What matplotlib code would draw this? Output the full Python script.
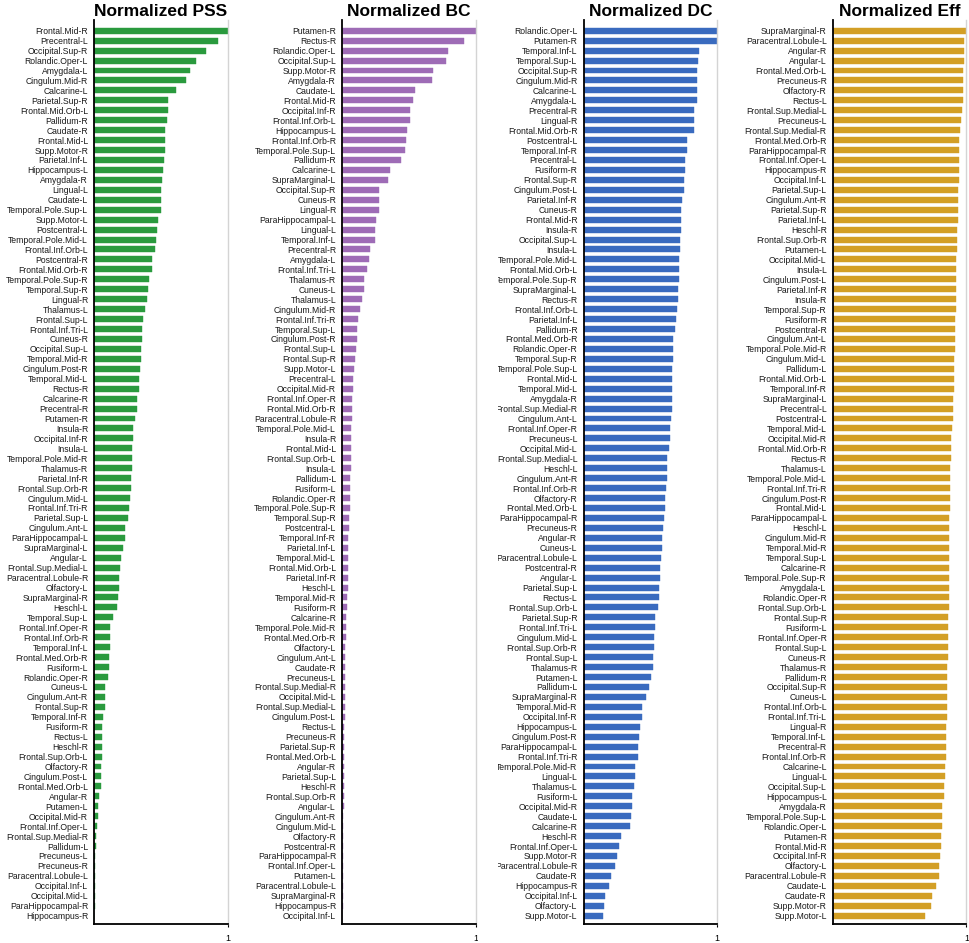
import matplotlib
matplotlib.use("Agg")
import matplotlib.pyplot as plt
from matplotlib.patches import Rectangle

plt.rcParams['font.family'] = ['Liberation Sans', 'DejaVu Sans']

pss_labels = ['Frontal.Mid-R', 'Precentral-L', 'Occipital.Sup-R', 'Rolandic.Oper-L', 'Amygdala-L',
              'Cingulum.Mid-R', 'Calcarine-L', 'Parietal.Sup-R', 'Frontal.Mid.Orb-L', 'Pallidum-R',
              'Caudate-R', 'Frontal.Mid-L', 'Supp.Motor-R', 'Parietal.Inf-L', 'Hippocampus-L',
              'Amygdala-R', 'Lingual-L', 'Caudate-L', 'Temporal.Pole.Sup-L', 'Supp.Motor-L',
              'Postcentral-L', 'Temporal.Pole.Mid-L', 'Frontal.Inf.Orb-L', 'Postcentral-R', 'Frontal.Mid.Orb-R',
              'Temporal.Pole.Sup-R', 'Temporal.Sup-R', 'Lingual-R', 'Thalamus-L', 'Frontal.Sup-L',
              'Frontal.Inf.Tri-L', 'Cuneus-R', 'Occipital.Sup-L', 'Temporal.Mid-R', 'Cingulum.Post-R',
              'Temporal.Mid-L', 'Rectus-R', 'Calcarine-R', 'Precentral-R', 'Putamen-R',
              'Insula-R', 'Occipital.Inf-R', 'Insula-L', 'Temporal.Pole.Mid-R', 'Thalamus-R',
              'Parietal.Inf-R', 'Frontal.Sup.Orb-R', 'Cingulum.Mid-L', 'Frontal.Inf.Tri-R', 'Parietal.Sup-L',
              'Cingulum.Ant-L', 'ParaHippocampal-L', 'SupraMarginal-L', 'Angular-L', 'Frontal.Sup.Medial-L',
              'Paracentral.Lobule-R', 'Olfactory-L', 'SupraMarginal-R', 'Heschl-L', 'Temporal.Sup-L',
              'Frontal.Inf.Oper-R', 'Frontal.Inf.Orb-R', 'Temporal.Inf-L', 'Frontal.Med.Orb-R', 'Fusiform-L',
              'Rolandic.Oper-R', 'Cuneus-L', 'Cingulum.Ant-R', 'Frontal.Sup-R', 'Temporal.Inf-R',
              'Fusiform-R', 'Rectus-L', 'Heschl-R', 'Frontal.Sup.Orb-L', 'Olfactory-R',
              'Cingulum.Post-L', 'Frontal.Med.Orb-L', 'Angular-R', 'Putamen-L', 'Occipital.Mid-R',
              'Frontal.Inf.Oper-L', 'Frontal.Sup.Medial-R', 'Pallidum-L', 'Precuneus-L', 'Precuneus-R',
              'Paracentral.Lobule-L', 'Occipital.Inf-L', 'Occipital.Mid-L', 'ParaHippocampal-R', 'Hippocampus-R']
pss_values = [1.0, 0.93, 0.835, 0.76, 0.72, 0.69, 0.61, 0.555, 0.55, 0.545,
              0.533, 0.528, 0.527, 0.52, 0.517, 0.505, 0.502, 0.5, 0.497, 0.475,
              0.472, 0.462, 0.452, 0.435, 0.43, 0.408, 0.405, 0.392, 0.378, 0.362,
              0.36, 0.355, 0.352, 0.35, 0.345, 0.338, 0.335, 0.322, 0.321, 0.307,
              0.29, 0.289, 0.285, 0.284, 0.282, 0.278, 0.277, 0.27, 0.262, 0.252,
              0.232, 0.231, 0.215, 0.202, 0.195, 0.183, 0.182, 0.178, 0.172, 0.138,
              0.118, 0.118, 0.117, 0.113, 0.112, 0.105, 0.08, 0.078, 0.077, 0.068,
              0.06, 0.058, 0.057, 0.056, 0.053, 0.048, 0.047, 0.035, 0.027, 0.026,
              0.021, 0.01, 0.009, 0.008, 0.007, 0.006, 0.004, 0.003, 0.002, 0.001]

bc_labels = ['Putamen-R', 'Rectus-R', 'Rolandic.Oper-L', 'Occipital.Sup-L', 'Supp.Motor-R',
             'Amygdala-R', 'Caudate-L', 'Frontal.Mid-R', 'Occipital.Inf-R', 'Frontal.Inf.Orb-L',
             'Hippocampus-L', 'Frontal.Inf.Orb-R', 'Temporal.Pole.Sup-L', 'Pallidum-R', 'Calcarine-L',
             'SupraMarginal-L', 'Occipital.Sup-R', 'Cuneus-R', 'Lingual-R', 'ParaHippocampal-L',
             'Lingual-L', 'Temporal.Inf-L', 'Precentral-R', 'Amygdala-L', 'Frontal.Inf.Tri-L',
             'Thalamus-R', 'Cuneus-L', 'Thalamus-L', 'Cingulum.Mid-R', 'Frontal.Inf.Tri-R',
             'Temporal.Sup-L', 'Cingulum.Post-R', 'Frontal.Sup-L', 'Frontal.Sup-R', 'Supp.Motor-L',
             'Precentral-L', 'Occipital.Mid-R', 'Frontal.Inf.Oper-R', 'Frontal.Mid.Orb-R', 'Paracentral.Lobule-R',
             'Temporal.Pole.Mid-L', 'Insula-R', 'Frontal.Mid-L', 'Frontal.Sup.Orb-L', 'Insula-L',
             'Pallidum-L', 'Fusiform-L', 'Rolandic.Oper-R', 'Temporal.Pole.Sup-R', 'Temporal.Sup-R',
             'Postcentral-L', 'Temporal.Inf-R', 'Parietal.Inf-L', 'Temporal.Mid-L', 'Frontal.Mid.Orb-L',
             'Parietal.Inf-R', 'Heschl-L', 'Temporal.Mid-R', 'Fusiform-R', 'Calcarine-R',
             'Temporal.Pole.Mid-R', 'Frontal.Med.Orb-R', 'Olfactory-L', 'Cingulum.Ant-L', 'Caudate-R',
             'Precuneus-L', 'Frontal.Sup.Medial-R', 'Occipital.Mid-L', 'Frontal.Sup.Medial-L', 'Cingulum.Post-L',
             'Rectus-L', 'Precuneus-R', 'Parietal.Sup-R', 'Frontal.Med.Orb-L', 'Angular-R',
             'Parietal.Sup-L', 'Heschl-R', 'Frontal.Sup.Orb-R', 'Angular-L', 'Cingulum.Ant-R',
             'Cingulum.Mid-L', 'Olfactory-R', 'Postcentral-R', 'ParaHippocampal-R', 'Frontal.Inf.Oper-L',
             'Putamen-L', 'Paracentral.Lobule-L', 'SupraMarginal-R', 'Hippocampus-R', 'Occipital.Inf-L']
bc_values = [1.0, 0.91, 0.79, 0.78, 0.68, 0.675, 0.548, 0.533, 0.51, 0.505,
             0.488, 0.475, 0.468, 0.44, 0.358, 0.343, 0.278, 0.277, 0.273, 0.253,
             0.243, 0.242, 0.21, 0.202, 0.188, 0.163, 0.162, 0.148, 0.13, 0.12,
             0.113, 0.108, 0.1, 0.098, 0.088, 0.083, 0.082, 0.075, 0.07, 0.069,
             0.068, 0.067, 0.065, 0.063, 0.062, 0.06, 0.06, 0.058, 0.055, 0.053,
             0.05, 0.046, 0.045, 0.043, 0.041, 0.04, 0.04, 0.038, 0.035, 0.03,
             0.025, 0.024, 0.022, 0.022, 0.02, 0.02, 0.019, 0.019, 0.018, 0.017,
             0.015, 0.015, 0.013, 0.012, 0.011, 0.01, 0.01, 0.009, 0.009, 0.008,
             0.007, 0.007, 0.006, 0.005, 0.005, 0.004, 0.003, 0.002, 0.002, 0.001]

dc_labels = ['Rolandic.Oper-L', 'Putamen-R', 'Temporal.Inf-L', 'Temporal.Sup-L', 'Occipital.Sup-R',
             'Cingulum.Mid-R', 'Calcarine-L', 'Amygdala-L', 'Precentral-R', 'Lingual-R',
             'Frontal.Mid.Orb-R', 'Postcentral-L', 'Temporal.Inf-R', 'Precentral-L', 'Fusiform-R',
             'Frontal.Sup-R', 'Cingulum.Post-L', 'Parietal.Inf-R', 'Cuneus-R', 'Frontal.Mid-R',
             'Insula-R', 'Occipital.Sup-L', 'Insula-L', 'Temporal.Pole.Mid-L', 'Frontal.Mid.Orb-L',
             'Temporal.Pole.Sup-R', 'SupraMarginal-L', 'Rectus-R', 'Frontal.Inf.Orb-L', 'Parietal.Inf-L',
             'Pallidum-R', 'Frontal.Med.Orb-R', 'Rolandic.Oper-R', 'Temporal.Sup-R', 'Temporal.Pole.Sup-L',
             'Frontal.Mid-L', 'Temporal.Mid-L', 'Amygdala-R', 'Frontal.Sup.Medial-R', 'Cingulum.Ant-L',
             'Frontal.Inf.Oper-R', 'Precuneus-L', 'Occipital.Mid-L', 'Frontal.Sup.Medial-L', 'Heschl-L',
             'Cingulum.Ant-R', 'Frontal.Inf.Orb-R', 'Olfactory-R', 'Frontal.Med.Orb-L', 'ParaHippocampal-R',
             'Precuneus-R', 'Angular-R', 'Cuneus-L', 'Paracentral.Lobule-L', 'Postcentral-R',
             'Angular-L', 'Parietal.Sup-L', 'Rectus-L', 'Frontal.Sup.Orb-L', 'Parietal.Sup-R',
             'Frontal.Inf.Tri-L', 'Cingulum.Mid-L', 'Frontal.Sup.Orb-R', 'Frontal.Sup-L', 'Thalamus-R',
             'Putamen-L', 'Pallidum-L', 'SupraMarginal-R', 'Temporal.Mid-R', 'Occipital.Inf-R',
             'Hippocampus-L', 'Cingulum.Post-R', 'ParaHippocampal-L', 'Frontal.Inf.Tri-R', 'Temporal.Pole.Mid-R',
             'Lingual-L', 'Thalamus-L', 'Fusiform-L', 'Occipital.Mid-R', 'Caudate-L',
             'Calcarine-R', 'Heschl-R', 'Frontal.Inf.Oper-L', 'Supp.Motor-R', 'Paracentral.Lobule-R',
             'Caudate-R', 'Hippocampus-R', 'Occipital.Inf-L', 'Olfactory-L', 'Supp.Motor-L']
dc_values = [1.0, 0.998, 0.862, 0.86, 0.853, 0.852, 0.851, 0.848, 0.828, 0.825,
             0.824, 0.778, 0.773, 0.763, 0.761, 0.755, 0.752, 0.735, 0.733, 0.731,
             0.73, 0.72, 0.72, 0.718, 0.716, 0.713, 0.71, 0.708, 0.698, 0.69,
             0.688, 0.668, 0.668, 0.666, 0.665, 0.665, 0.664, 0.662, 0.66, 0.652,
             0.65, 0.649, 0.637, 0.628, 0.626, 0.625, 0.615, 0.613, 0.608, 0.603,
             0.598, 0.59, 0.589, 0.58, 0.575, 0.57, 0.568, 0.567, 0.558, 0.538,
             0.533, 0.53, 0.528, 0.52, 0.518, 0.508, 0.493, 0.465, 0.44, 0.438,
             0.425, 0.415, 0.408, 0.405, 0.385, 0.382, 0.375, 0.365, 0.364, 0.352,
             0.348, 0.278, 0.263, 0.248, 0.233, 0.208, 0.193, 0.163, 0.15, 0.143]

eff_labels = ['SupraMarginal-R', 'Paracentral.Lobule-L', 'Angular-R', 'Angular-L', 'Frontal.Med.Orb-L',
              'Precuneus-R', 'Olfactory-R', 'Rectus-L', 'Frontal.Sup.Medial-L', 'Precuneus-L',
              'Frontal.Sup.Medial-R', 'Frontal.Med.Orb-R', 'ParaHippocampal-R', 'Frontal.Inf.Oper-L', 'Hippocampus-R',
              'Occipital.Inf-L', 'Parietal.Sup-L', 'Cingulum.Ant-R', 'Parietal.Sup-R', 'Parietal.Inf-L',
              'Heschl-R', 'Frontal.Sup.Orb-R', 'Putamen-L', 'Occipital.Mid-L', 'Insula-L',
              'Cingulum.Post-L', 'Parietal.Inf-R', 'Insula-R', 'Temporal.Sup-R', 'Fusiform-R',
              'Postcentral-R', 'Cingulum.Ant-L', 'Temporal.Pole.Mid-R', 'Cingulum.Mid-L', 'Pallidum-L',
              'Frontal.Mid.Orb-L', 'Temporal.Inf-R', 'SupraMarginal-L', 'Precentral-L', 'Postcentral-L',
              'Temporal.Mid-L', 'Occipital.Mid-R', 'Frontal.Mid.Orb-R', 'Rectus-R', 'Thalamus-L',
              'Temporal.Pole.Mid-L', 'Frontal.Inf.Tri-R', 'Cingulum.Post-R', 'Frontal.Mid-L', 'ParaHippocampal-L',
              'Heschl-L', 'Cingulum.Mid-R', 'Temporal.Mid-R', 'Temporal.Sup-L', 'Calcarine-R',
              'Temporal.Pole.Sup-R', 'Amygdala-L', 'Rolandic.Oper-R', 'Frontal.Sup.Orb-L', 'Frontal.Sup-R',
              'Fusiform-L', 'Frontal.Inf.Oper-R', 'Frontal.Sup-L', 'Cuneus-R', 'Thalamus-R',
              'Pallidum-R', 'Occipital.Sup-R', 'Cuneus-L', 'Frontal.Inf.Orb-L', 'Frontal.Inf.Tri-L',
              'Lingual-R', 'Temporal.Inf-L', 'Precentral-R', 'Frontal.Inf.Orb-R', 'Calcarine-L',
              'Lingual-L', 'Occipital.Sup-L', 'Hippocampus-L', 'Amygdala-R', 'Temporal.Pole.Sup-L',
              'Rolandic.Oper-L', 'Putamen-R', 'Frontal.Mid-R', 'Occipital.Inf-R', 'Olfactory-L',
              'Paracentral.Lobule-R', 'Caudate-L', 'Caudate-R', 'Supp.Motor-R', 'Supp.Motor-L']
eff_values = [1.0, 0.985, 0.981, 0.979, 0.978, 0.977, 0.975, 0.972, 0.968, 0.958,
              0.955, 0.948, 0.943, 0.942, 0.942, 0.941, 0.94, 0.94, 0.939, 0.935,
              0.93, 0.928, 0.927, 0.925, 0.924, 0.923, 0.922, 0.921, 0.92, 0.918,
              0.915, 0.913, 0.912, 0.91, 0.909, 0.908, 0.905, 0.903, 0.902, 0.898,
              0.895, 0.888, 0.883, 0.882, 0.88, 0.878, 0.876, 0.875, 0.874, 0.873,
              0.872, 0.872, 0.871, 0.871, 0.87, 0.869, 0.868, 0.867, 0.866, 0.863,
              0.862, 0.861, 0.86, 0.86, 0.858, 0.857, 0.857, 0.856, 0.855, 0.853,
              0.85, 0.848, 0.847, 0.845, 0.843, 0.84, 0.835, 0.83, 0.82, 0.818,
              0.815, 0.813, 0.812, 0.805, 0.793, 0.792, 0.77, 0.743, 0.733, 0.693]

panels = [
    ('Normalized PSS', pss_labels, pss_values, '#2a9a3e', 94.3),
    ('Normalized BC', bc_labels, bc_values, '#9e6cb6', 342.3),
    ('Normalized DC', dc_labels, dc_values, '#3a6bbf', 583.7),
    ('Normalized Eff', eff_labels, eff_values, '#d39f26', 833.0),
]

W, H = 970, 943
fig = plt.figure(figsize=(W / 100, H / 100), dpi=100)

for title, labels, values, color, left_px in panels:
    ax = fig.add_axes([left_px / W, (H - 924) / H, 133.4 / W, 904 / H])
    ypos = list(range(len(labels)))
    ax.barh(ypos, values, height=0.6, color=color, edgecolor=color, linewidth=0.3)
    ax.set_ylim(89.84, -1.08)
    ax.set_xlim(0, 1)
    ax.set_yticks(ypos)
    ax.set_yticklabels(labels, fontsize=6.2, color='#1a1a1a')
    ax.tick_params(axis='y', length=0, pad=4.5)
    ax.set_xticks([1])
    ax.set_xticklabels(['1'], fontsize=6.5)
    ax.tick_params(axis='x', length=2, width=0.8, pad=5)
    ax.spines['top'].set_visible(False)
    ax.spines['right'].set_color('#d4d4d4')
    ax.spines['right'].set_linewidth(1.0)
    ax.spines['left'].set_linewidth(1.3)
    ax.spines['bottom'].set_linewidth(1.3)
    ax.set_title(title, fontsize=12.5, fontweight='bold', pad=3)

# panel 3 labels are cut off where panel 2's area ends
fig.add_artist(Rectangle((478 / W, 0), 20 / W, 1, transform=fig.transFigure,
                         facecolor='white', edgecolor='none', zorder=5))

fig.savefig('out.png', dpi=100)
